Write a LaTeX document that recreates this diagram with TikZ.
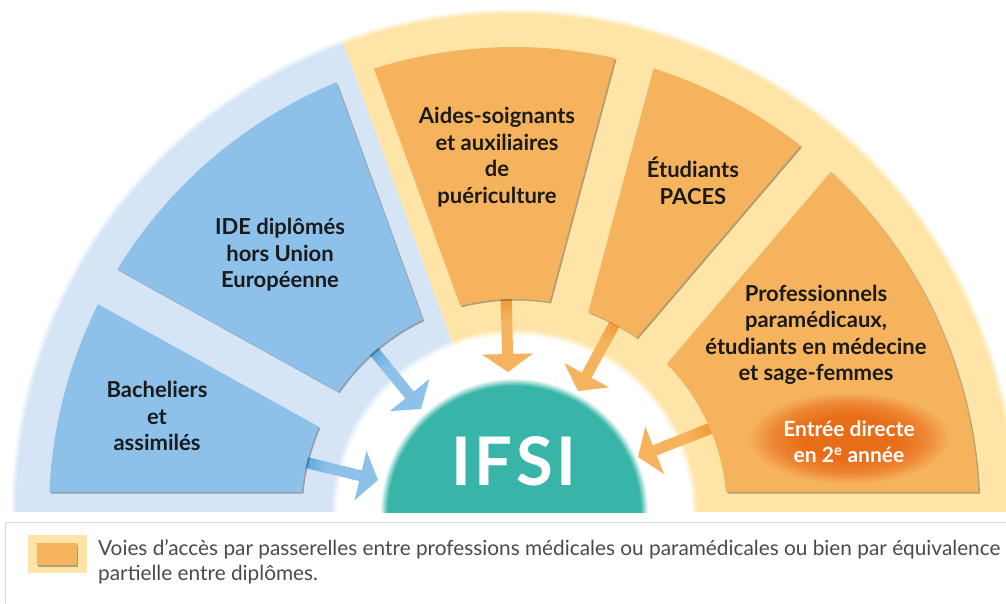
\documentclass[tikz,border=0pt]{standalone}
\usepackage{fontspec}
\setmainfont{Lato}
\usetikzlibrary{arrows.meta,calc,shadows,positioning}

\definecolor{bandBlue}{HTML}{D5E5F6}
\definecolor{bandYellow}{HTML}{FEE5A7}
\definecolor{cardBlue}{HTML}{8EC1EA}
\definecolor{cardOrange}{HTML}{F5B35D}
\definecolor{arrowBlueDark}{HTML}{4FA3DA}
\definecolor{arrowOrangeDark}{HTML}{F09425}
\definecolor{ifsiTeal}{HTML}{38B5A8}
\definecolor{entryDark}{HTML}{E86D18}
\definecolor{entryMid}{HTML}{EE8633}
\definecolor{labelText}{HTML}{1A1A1A}
\definecolor{legendText}{HTML}{4A4A4A}
\definecolor{legendRule}{HTML}{DADADA}

% path edge = 25bp
\pgfdeclareradialshading{blueband}{\pgfpoint{0bp}{0bp}}{color(0bp)=(white); color(8.75bp)=(white); color(9.1bp)=(bandBlue); color(24.7bp)=(bandBlue); color(25bp)=(white)}
\pgfdeclareradialshading{yellowband}{\pgfpoint{0bp}{0bp}}{color(0bp)=(white); color(8.75bp)=(white); color(9.1bp)=(bandYellow); color(24.7bp)=(bandYellow); color(25bp)=(white)}
\pgfdeclareradialshading{domeglow}{\pgfpoint{0bp}{0bp}}{color(0bp)=(ifsiTeal); color(23.6bp)=(ifsiTeal); color(25bp)=(white)}
\pgfdeclareradialshading{entryglow}{\pgfpoint{0bp}{0bp}}{color(0bp)=(entryDark); color(12bp)=(entryDark); color(19bp)=(entryMid); color(25bp)=(cardOrange)}

% card = annular sector, edges kept 20pt off the radial lines
\newcommand{\sectorcard}[3]{%
  \fill[#3,drop shadow={shadow xshift=1.5pt,shadow yshift=-1.5pt,fill=black,opacity=0.3}]
    ({#1+asin(20/465)}:465) arc[start angle={#1+asin(20/465)},end angle={#2-asin(20/465)},radius=465]
    -- ({#2-asin(20/213)}:213) arc[start angle={#2-asin(20/213)},end angle={#1+asin(20/213)},radius=213] -- cycle;}

% arrow with a darker start
\newcommand{\feedarrow}[4]{%
  \draw[#3,line width=11pt,-{Triangle[width=50pt,length=18pt]}] (#1) -- (#2);
  \foreach \k in {0,...,7}{
    \pgfmathtruncatemacro\pct{100-\k*13}
    \draw[#4!\pct!#3,line width=11pt] ($(#1)!{\k*0.045}!(#2)$) -- ($(#1)!{(\k+1)*0.045+0.004}!(#2)$);
  }}

\begin{document}
\begin{tikzpicture}[x=1pt,y=1pt,
  cardtext/.style={font=\fontsize{22}{26.5}\selectfont\bfseries,text=labelText,align=center},
  entrytext/.style={font=\fontsize{21}{26}\selectfont\bfseries,text=white,align=center}]
\useasboundingbox (-514,-91) rectangle (492,512);

% bands
\begin{scope}
  \clip (0,0) -- (180:530) arc[start angle=180,end angle=110,radius=530] -- cycle;
  \shade[shading=blueband] (0,0) circle (504);
\end{scope}
\begin{scope}
  \clip (0,0) -- (110:530) arc[start angle=110,end angle=0,radius=530] -- cycle;
  \shade[shading=yellowband] (0,0) circle (504);
\end{scope}

% IFSI dome
\begin{scope}
  \clip (-140,0) rectangle (140,140);
  \shade[shading=domeglow] (0,0) circle (134);
\end{scope}
\node[font=\fontsize{67}{67}\selectfont\bfseries,text=white] (ifsi) at (0,51) {I\kern3.5pt F\kern3.5pt S\kern3.5pt I};

% arrows
\coordinate (bachOut) at (-214,51);  \coordinate (bachIn) at (-136,32);
\coordinate (ideOut) at (-146,168);  \coordinate (ideIn) at (-93,103);
\coordinate (aidesOut) at (-8,222);  \coordinate (aidesIn) at (-6,140);
\coordinate (pacesOut) at (106,198); \coordinate (pacesIn) at (64,121);
\coordinate (proOut) at (205,87);    \coordinate (proIn) at (124,55);
\feedarrow{bachOut}{bachIn}{cardBlue}{arrowBlueDark}
\feedarrow{ideOut}{ideIn}{cardBlue}{arrowBlueDark}
\feedarrow{aidesOut}{aidesIn}{cardOrange}{arrowOrangeDark}
\feedarrow{pacesOut}{pacesIn}{cardOrange}{arrowOrangeDark}
\feedarrow{proOut}{proIn}{cardOrange}{arrowOrangeDark}

% cards
\sectorcard{151}{180}{cardBlue}
\sectorcard{110}{151}{cardBlue}
\sectorcard{75}{110}{cardOrange}
\sectorcard{49.5}{75}{cardOrange}
\sectorcard{0}{49.5}{cardOrange}

\node[cardtext] (bach) at (-357,96) {Bacheliers\\et\\assimilés};
\node[cardtext] (ide) at (-234,257) {IDE diplômés\\hors Union\\Européenne};
\node[cardtext] (aides) at (-17,355) {Aides-soignants\\et auxiliaires\\de\\puériculture};
\node[cardtext] (paces) at (179,331) {Étudiants\\PACES};
\node[cardtext] (pro) at (302,177) {Professionnels\\paramédicaux,\\étudiants en médecine\\et sage-femmes};

\shade[shading=entryglow] (335,74) ellipse[x radius=101,y radius=46];
\node[entrytext] (entry) at (335,70) {Entrée directe\\en 2\textsuperscript{e} année};

% legend
\draw[legendRule] (-509,-91) -- (-509,-10) -- (492,-10);
\fill[bandYellow] (-486,-23) rectangle (-427,-61);
\fill[cardOrange,drop shadow={shadow xshift=1.5pt,shadow yshift=-1.5pt,fill=black,opacity=0.3}] (-477,-31) rectangle (-437,-53);
\node[anchor=north west,inner sep=0pt,align=left,text=legendText,font=\fontsize{20.8}{25}\selectfont] (legend) at (-416,-27)
  {Voies d’accès par passerelles entre professions médicales ou paramédicales ou bien par équivalence\\partielle entre diplômes.};
\end{tikzpicture}
\end{document}
